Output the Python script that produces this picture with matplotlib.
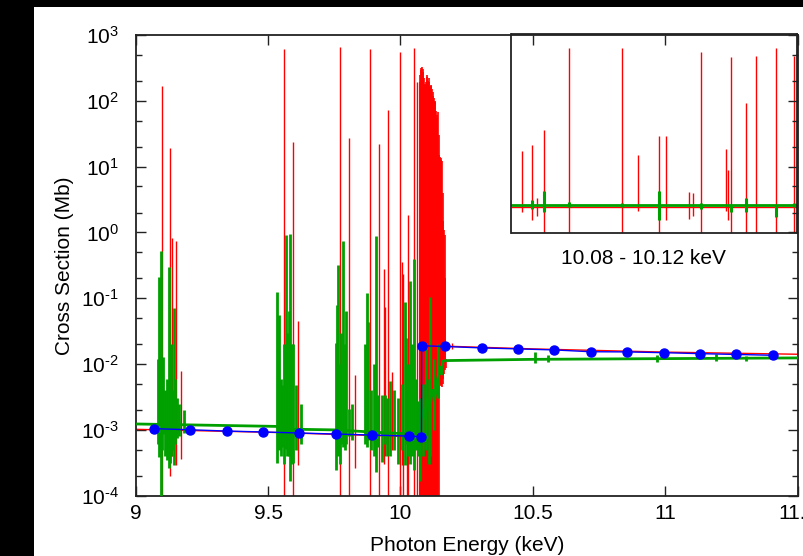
import numpy as np
import matplotlib
matplotlib.use("Agg")
import matplotlib.pyplot as plt
from matplotlib.patches import Rectangle
from matplotlib.ticker import LogLocator, NullFormatter, NullLocator, FuncFormatter

plt.rcParams['font.family'] = ['Liberation Sans', 'DejaVu Sans']
plt.rcParams['mathtext.default'] = 'regular'

RED = "#ff0000"
GREEN = "#00a000"
BLUE = "#0000ff"

# ---- main panel: smooth background of each calculation (keV, Mb)
red_bg_e = [9.00, 9.50, 10.08, 10.17, 10.50, 11.00, 11.50]
red_bg_v = [1.02e-3, 9.2e-4, 7.8e-4, 0.0187, 0.0170, 0.0152, 0.0141]

green_bg_e = [9.00, 9.53, 9.55, 9.75, 9.95, 10.07, 10.08, 10.09, 10.10, 10.11,
              10.12, 10.13, 10.14, 10.15, 10.155, 10.16, 10.17, 10.50, 11.00, 11.50]
green_bg_v = [1.23e-3, 1.13e-3, 1.03e-3, 1.0e-3, 9.0e-4, 8.6e-4, 2.0e-3, 1.5e-3,
              3.0e-3, 2.0e-3, 4.0e-3, 3.0e-3, 6.0e-3, 9.0e-3, 7.0e-3, 0.011,
              0.0113, 0.0118, 0.0121, 0.0124]

# isolated resonances: energy, peak, trough
red_res_e = [9.099, 9.131, 9.137, 9.154, 9.170, 9.559, 9.593, 9.614, 9.770,
             9.806, 9.827, 9.885, 9.919, 9.938, 9.943, 9.954, 9.968, 9.997,
             10.004, 10.010, 10.024, 10.030, 10.050, 10.064, 10.193]
red_res_hi = [168, 19, 0.83, 0.74, 0.0078, 613, 24, 0.045, 665,
              27.5, 0.0069, 612, 21.8, 0.28, 0.073, 72, 0.0076, 558,
              0.36, 0.23, 0.004, 1.84, 627, 195, 0.021]
red_res_lo = [1e-5, 2e-4, 4e-4, 2.9e-4, 3.6e-4, 1e-5, 1e-5, 2.9e-4, 1e-5,
              1e-5, 2.6e-4, 1e-5, 1e-5, 3e-4, 4e-4, 1e-5, 5e-4, 1e-5,
              2.9e-4, 1e-5, 1e-5, 1e-5, 1e-5, 1e-5, 0.017]

# unresolved resonances just below the edge
red_comb_e = [10.0724, 10.0743, 10.0762, 10.0787, 10.0812, 10.0837, 10.0862,
              10.0888, 10.0913, 10.0938, 10.0963, 10.0988, 10.1013, 10.1038,
              10.1064, 10.1089, 10.1114, 10.1139, 10.1164, 10.1190, 10.1215,
              10.1240, 10.1265, 10.1290, 10.1315, 10.1340, 10.1366, 10.1391,
              10.1416, 10.1441, 10.1466, 10.1492, 10.1517, 10.1542, 10.1567,
              10.1592, 10.1617, 10.1642, 10.1668, 10.1693, 10.1718]
red_comb_hi = [195, 250, 311, 290, 330, 300, 278, 220, 174, 180, 195, 230,
               247, 200, 219, 190, 164, 170, 174, 150, 137, 120, 109, 100,
               97, 70, 54, 60, 68, 30, 15, 14, 13.5, 12.5, 12, 4, 1.48, 1.1,
               0.92, 0.2, 0.0086]
red_comb_lo = [1e-5, 1e-5, 1e-5, 1e-5, 1e-5, 1e-5, 1e-5, 1e-5, 1e-5, 1e-5,
               1e-5, 1e-5, 1e-5, 1e-5, 1e-5, 1e-5, 1e-5, 1e-5, 1e-5, 1e-5,
               1e-5, 1e-5, 1e-5, 1e-5, 1e-5, 1e-5, 1e-5, 1e-5, 1e-5, 1e-5,
               0.0047, 0.0048, 0.005, 0.0047, 0.0045, 0.005, 0.006, 0.007,
               0.008, 0.010, 0.012]

green_res_e = [9.084, 9.088, 9.091, 9.094, 9.100, 9.104, 9.110, 9.118, 9.125,
               9.130, 9.134, 9.140, 9.146, 9.150, 9.156, 9.163, 9.183,
               9.532, 9.537, 9.540, 9.548, 9.554, 9.560, 9.566, 9.572, 9.578,
               9.584, 9.588, 9.593, 9.604, 9.626,
               9.756, 9.760, 9.763, 9.770, 9.776, 9.784, 9.789, 9.794, 9.806,
               9.818, 9.866, 9.872, 9.878, 9.890, 9.900, 9.907, 9.916,
               9.929, 9.941, 9.950, 9.960, 9.975, 9.990, 10.005, 10.016,
               10.022, 10.028, 10.037, 10.044, 10.051, 10.058, 10.066,
               10.072, 10.085, 10.097, 10.106, 10.113, 10.125, 10.140,
               10.508, 10.557, 10.967, 11.190, 11.305]
green_res_hi = [0.012, 0.21, 0.02, 0.53, 0.0069, 0.013, 0.004, 0.006, 0.30,
                0.0086, 0.02, 0.004, 0.072, 0.006, 0.0031, 0.0025, 0.0020,
                0.124, 0.01, 0.055, 0.006, 0.0048, 0.02, 0.93, 0.03, 0.063,
                0.96, 0.02, 0.02, 0.0048, 0.0025,
                0.021, 0.08, 0.32, 0.01, 0.03, 0.75, 0.02, 0.065, 0.0021,
                0.0025, 0.02, 0.12, 0.043, 0.004, 0.01, 0.89, 0.0034,
                0.0034, 0.0034, 0.003, 0.0055, 0.004, 0.003, 0.005, 0.089,
                0.025, 0.01, 0.18, 0.02, 0.40, 0.006, 0.0027,
                0.003, 0.005, 0.02, 0.006, 0.104, 0.012, 0.02,
                0.0155, 0.0135, 0.0135, 0.0140, 0.0132]
green_res_lo = [6e-4, 3.9e-4, 5e-4, 1e-5, 5e-4, 8.8e-4, 4e-4, 3.5e-4, 2.6e-4,
                3.1e-4, 4e-4, 5e-4, 2.9e-4, 6e-4, 7.5e-4, 8e-4, 9e-4,
                3.1e-4, 6e-4, 5e-4, 4e-4, 5.5e-4, 3e-4, 5.2e-4, 4e-4, 4e-4,
                1.7e-4, 3e-4, 3.1e-4, 5e-4, 6e-4,
                2.5e-4, 5e-4, 4e-4, 3e-4, 6e-4, 5.4e-4, 5e-4, 6e-4, 8e-4,
                7e-4, 6e-4, 5.4e-4, 7e-4, 5e-4, 4e-4, 2.3e-4, 5.5e-4,
                3.2e-4, 6e-4, 4e-4, 4e-4, 5e-4, 3e-4, 5e-4, 2.9e-4,
                6e-4, 4e-4, 3e-4, 4e-4, 2.5e-4, 5e-4, 4e-4,
                1.7e-4, 4e-4, 5e-4, 3e-4, 4e-4, 1e-3, 3e-3,
                0.0104, 0.0108, 0.0108, 0.0112, 0.0112]

# tabulated values
blue_e = [9.068, 9.205, 9.343, 9.481, 9.618, 9.756, 9.894, 10.032, 10.079,
          10.080, 10.168, 10.307, 10.443, 10.581, 10.718, 10.855, 10.994,
          11.131, 11.268, 11.406]
blue_v = [1.043e-3, 1.005e-3, 9.6e-4, 9.3e-4, 8.96e-4, 8.65e-4, 8.35e-4,
          8.05e-4, 7.9e-4, 0.0190, 0.0185, 0.0176, 0.0170, 0.0164, 0.0154,
          0.0153, 0.0149, 0.0144, 0.0140, 0.0136]

# ---- inset: 10.08 - 10.12 keV
ins_red_bg_e = [10.08, 10.12]
ins_red_bg_v = [0.0110, 0.0110]
ins_green_bg_e = [10.08, 10.12]
ins_green_bg_v = [0.0122, 0.0122]

ins_red_e = [10.0815, 10.0829, 10.0836, 10.0845, 10.0880, 10.0955, 10.0977,
             10.1006, 10.1016, 10.1048, 10.1054, 10.1066, 10.1100, 10.1104,
             10.1107, 10.1129, 10.1142, 10.1171, 10.1196]
ins_red_hi = [0.43, 0.667, 0.02, 1.81, 394, 394, 0.34, 1.15, 1.21, 0.030,
              0.027, 296, 0.50, 0.127, 222, 10.6, 237, 394, 237]
ins_red_lo = [0.0079, 0.0045, 0.006, 1e-4, 1e-4, 1e-4, 0.0085, 1e-4, 0.0045,
              0.005, 0.006, 1e-4, 0.0085, 0.0045, 1e-4, 1e-4, 1e-4, 1e-4, 1e-4]

ins_green_e = [10.0829, 10.0845, 10.0880, 10.0955, 10.1006, 10.1066, 10.1107,
               10.1129, 10.1171, 10.1196]
ins_green_hi = [0.017, 0.032, 0.015, 0.014, 0.032, 0.014, 0.0125, 0.019,
                0.0125, 0.014]
ins_green_lo = [0.0095, 0.0079, 0.0105, 0.0105, 0.0045, 0.0095, 0.0079,
                0.0079, 0.0056, 0.0105]


def decade_label(v, pos):
    n = int(round(np.log10(v)))
    exp = str(n).replace("-", "\u2010")
    return "$10^{%s}$" % exp


fig = plt.figure(figsize=(8.04, 5.56), dpi=100)
fig.patch.set_facecolor("white")
# dark border strips
fig.add_artist(Rectangle((0, 0), 34 / 804, 1, transform=fig.transFigure,
                         facecolor="black", edgecolor="none", zorder=-5))
fig.add_artist(Rectangle((0, 1 - 7 / 556), 1, 7 / 556, transform=fig.transFigure,
                         facecolor="black", edgecolor="none", zorder=-5))

ax = fig.add_axes([135.7 / 804, 1 - 495.7 / 556, 662 / 804, 460.7 / 556])
ax.set_zorder(3)
ax.patch.set_visible(False)

ax.plot(red_bg_e, red_bg_v, color=RED, lw=1.0, zorder=2)
ax.vlines(red_res_e, red_res_lo, red_res_hi, color=RED, lw=1.0, zorder=2)
ax.vlines(red_comb_e, red_comb_lo, red_comb_hi, color=RED, lw=1.2, zorder=2)
ax.plot(green_bg_e, green_bg_v, color=GREEN, lw=2.0, zorder=3)
ax.vlines(green_res_e, green_res_lo, green_res_hi, color=GREEN, lw=2.0, zorder=3)
ax.plot(blue_e, blue_v, color=BLUE, lw=1.0, marker="o", ms=6.5,
        mec=BLUE, mfc=BLUE, zorder=4)

ax.set_xlim(9, 11.5)
ax.set_yscale("log")
ax.set_ylim(1e-4, 1e3)
ax.set_xticks([9, 9.5, 10, 10.5, 11, 11.5])
ax.set_xticklabels(["9", "9.5", "10", "10.5", "11", "11.5"])
ax.yaxis.set_major_locator(LogLocator(base=10, numticks=20))
ax.yaxis.set_major_formatter(FuncFormatter(decade_label))
ax.yaxis.set_minor_locator(LogLocator(base=10, subs=(2, 5), numticks=20))
ax.yaxis.set_minor_formatter(NullFormatter())
ax.tick_params(which="both", direction="in", top=True, right=True,
               colors="#222222", labelcolor="black", labelsize=15)
ax.tick_params(which="major", length=7, width=1.0)
ax.tick_params(which="minor", length=4, width=1.0)
ax.tick_params(axis="x", pad=6)
ax.tick_params(axis="y", pad=12)
for sp in ax.spines.values():
    sp.set_linewidth(1.3)
    sp.set_color("#222222")

ax.set_xlabel("Photon Energy (keV)", fontsize=15)
ax.set_ylabel("Cross Section (Mb)", fontsize=15)
ax.xaxis.set_label_coords(0.5, -0.087)
ax.yaxis.set_label_coords(-0.093, 0.5)

# inset panel, drawn underneath so the main ticks stay visible
axi = fig.add_axes([511.5 / 804, 1 - 232.5 / 556, 285.5 / 804, 198.5 / 556])
axi.set_zorder(1)
axi.plot(ins_red_bg_e, ins_red_bg_v, color=RED, lw=1.0)
axi.vlines(ins_red_e, ins_red_lo, ins_red_hi, color=RED, lw=1.0)
axi.plot(ins_green_bg_e, ins_green_bg_v, color=GREEN, lw=2.0)
axi.vlines(ins_green_e, ins_green_lo, ins_green_hi, color=GREEN, lw=2.2)
axi.set_xlim(10.08, 10.12)
axi.set_yscale("log")
axi.set_ylim(2e-3, 1e3)
axi.xaxis.set_major_locator(NullLocator())
axi.yaxis.set_major_locator(NullLocator())
axi.yaxis.set_minor_locator(NullLocator())
for sp in axi.spines.values():
    sp.set_linewidth(1.3)
    sp.set_color("#222222")

fig.text(643 / 804, 1 - 259 / 556, "10.08 - 10.12 keV", ha="center",
         va="center", fontsize=15)

fig.savefig("out.png", dpi=100, facecolor=fig.get_facecolor())
